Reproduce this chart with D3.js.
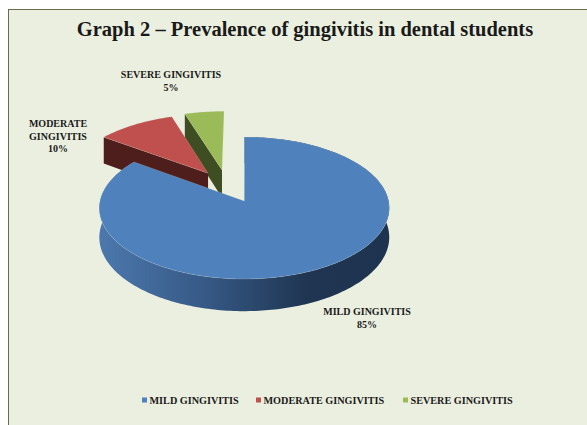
<!DOCTYPE html>
<html>
<head>
<meta charset="utf-8">
<script src="https://cdnjs.cloudflare.com/ajax/libs/d3/7.8.5/d3.min.js"></script>
<style>
html, body { margin: 0; padding: 0; background: #fff; overflow: hidden; }
svg { display: block; }
text { font-family: "Liberation Serif", serif; font-weight: bold; fill: #1a1a1a; }
</style>
</head>
<body>
<div id="chart"></div>
<script>
// Chart data
var categories = ["MILD GINGIVITIS", "MODERATE GINGIVITIS", "SEVERE GINGIVITIS"];
var values = [85, 10, 5];
var percentLabels = ["85%", "10%", "5%"];
var titleText = "Graph 2 \u2013 Prevalence of gingivitis in dental students";

var svgWidth = 587;
var svgHeight = 425;

var topColors = ["#4f81bd", "#c0504d", "#9bbb59"];
var sideColors = ["url(#blueSide)", "#4e1e1c", "#3f4d22"];

// how far each slice is pulled out of the pie, in unit disc coords
var explode = [[-0.01, 0], [-0.272, 0.41], [-0.172, 0.46]];

var svg = d3.select("#chart")
    .append("svg")
    .attr("width", svgWidth)
    .attr("height", svgHeight);

var gradient = svg.append("defs").append("linearGradient")
    .attr("id", "blueSide")
    .attr("gradientUnits", "userSpaceOnUse")
    .attr("x1", 100).attr("x2", 390).attr("y1", 0).attr("y2", 0);
gradient.append("stop").attr("offset", "0%").attr("stop-color", "#4c78ad");
gradient.append("stop").attr("offset", "35%").attr("stop-color", "#375a87");
gradient.append("stop").attr("offset", "72%").attr("stop-color", "#1f3551");
gradient.append("stop").attr("offset", "100%").attr("stop-color", "#1d3350");

// chart area background
svg.append("rect")
    .attr("x", 8.5)
    .attr("y", 9.5)
    .attr("width", 620)
    .attr("height", 460)
    .attr("fill", "#ebefdf")
    .attr("stroke", "#6b6b4f")
    .attr("stroke-width", 1);

// Perspective view of the tilted pie
var xScale = d3.scaleLinear().domain([-1, 1]).range([101.5, 390]);
var yScale = d3.scaleLinear().domain([-1, 1]).range([271.3, 130.7]);
var perspective = 0.0986;
var depth = 29;

function project(u, v) {
    var s = 1 / (1 + perspective * v);
    return { x: xScale(u * s), y: yScale(v * s), drop: depth * s };
}

var pie = d3.pie().sort(null).startAngle(0).endAngle(2 * Math.PI);
var slices = pie(values);

var line = d3.line().x(d => d.x).y(d => d.y);

function rimPoints(slice, offset) {
    var steps = Math.ceil((slice.endAngle - slice.startAngle) / 0.02);
    return d3.range(steps + 1).map(function(i) {
        var a = slice.startAngle + (slice.endAngle - slice.startAngle) * i / steps;
        return project(offset[0] + Math.sin(a), offset[1] + Math.cos(a));
    });
}

function down(p) {
    return { x: p.x, y: p.y + p.drop };
}

var pieGroup = svg.append("g");

// back slices first, the big one goes on top
[2, 1, 0].forEach(function(i) {
    var slice = slices[i];
    var offset = explode[i];
    var rim = rimPoints(slice, offset);
    var apex = project(offset[0], offset[1]);
    var first = rim[0];

    if (i === 0) {
        // outer wall, only the big slice shows it
        pieGroup.append("path")
            .attr("d", line(rim.concat(rim.slice().reverse().map(down))) + "Z")
            .attr("fill", sideColors[i]);
    } else {
        // cut face that looks towards the viewer
        pieGroup.append("path")
            .attr("d", line([first, apex, down(apex), down(first)]) + "Z")
            .attr("fill", sideColors[i]);
    }

    // top
    pieGroup.append("path")
        .attr("d", line([apex].concat(rim)) + "Z")
        .attr("fill", topColors[i])
        .attr("stroke", "#e4e9d6")
        .attr("stroke-opacity", 0.35)
        .attr("stroke-width", 0.5);
});

// Title
svg.append("text")
    .attr("x", 305)
    .attr("y", 36)
    .attr("text-anchor", "middle")
    .attr("font-size", 20.5)
    .text(titleText);

// Data labels
var labelLines = [
    ["MILD GINGIVITIS", percentLabels[0]],
    ["MODERATE", "GINGIVITIS", percentLabels[1]],
    ["SEVERE GINGIVITIS", percentLabels[2]]
];
var labelX = [367, 58, 171];
var labelY = [315, 127, 78];

labelLines.forEach(function(lines, i) {
    svg.append("g").selectAll("text")
        .data(lines)
        .enter()
        .append("text")
        .attr("x", labelX[i])
        .attr("y", (d, j) => labelY[i] + j * 12.5)
        .attr("text-anchor", "middle")
        .attr("font-size", 10)
        .text(d => d);
});

// Legend
var legendX = [142, 256, 403];
var legend = svg.append("g").selectAll("g")
    .data(categories)
    .enter()
    .append("g")
    .attr("transform", (d, i) => `translate(${legendX[i]}, 404)`);

legend.append("rect")
    .attr("x", 0)
    .attr("y", -6.5)
    .attr("width", 5)
    .attr("height", 5)
    .attr("fill", (d, i) => topColors[i]);

legend.append("text")
    .attr("x", 7.5)
    .attr("y", 0)
    .attr("font-size", 10.2)
    .text(d => d);
</script>
</body>
</html>
